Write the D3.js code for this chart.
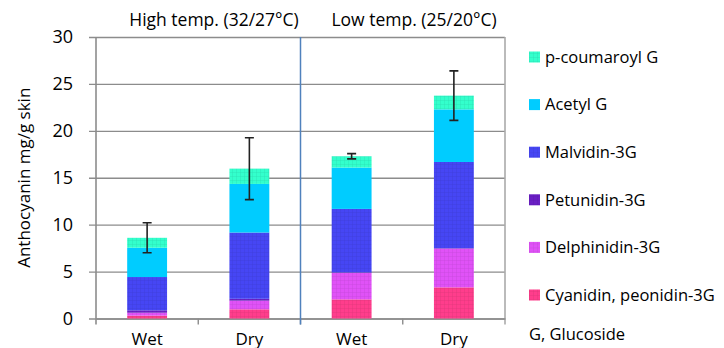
<!DOCTYPE html>
<html>
<head>
<meta charset="utf-8">
<script src="https://cdn.jsdelivr.net/npm/d3@7"></script>
<style>
  body { margin: 0; background: #fff; }
  svg { display: block; font-family: "Open Sans", "Noto Sans", sans-serif; }
</style>
</head>
<body>
<svg id="chart" width="724" height="348"></svg>
<script>
// categories (bottom labels) and their temperature groups
const categories = ["High Wet", "High Dry", "Low Wet", "Low Dry"]
const categoryLabels = ["Wet", "Dry", "Wet", "Dry"]
const groupTitles = ["High temp. (32/27°C)", "Low temp. (25/20°C)"]

// stacked series, bottom to top
const seriesNames = ["Cyanidin, peonidin-3G", "Delphinidin-3G", "Petunidin-3G", "Malvidin-3G", "Acetyl G", "p-coumaroyl G"]
const cyanidin = [0.30, 0.98, 2.04, 3.32]
const delphinidin = [0.32, 0.92, 2.82, 4.13]
const petunidin = [0.25, 0.20, 0.05, 0.05]
const malvidin = [3.55, 7.06, 6.77, 9.18]
const acetyl = [3.12, 5.18, 4.40, 5.61]
const coumaroyl = [1.06, 1.63, 1.21, 1.46]
const errors = [1.6, 3.3, 0.28, 2.64]

const yTicks = [0, 5, 10, 15, 20, 25, 30]
const seriesColors = ["#ff3d8c", "#e052f7", "#6a1fc4", "#4646f4", "#00ccff", "#33ffcc"]

const margin = { top: 37, bottom: 29.5, left: 96, right: 219 }
const svg = d3.select("#chart")
const width = +svg.attr("width")
const height = +svg.attr("height")
const plotW = width - margin.left - margin.right
const plotH = height - margin.top - margin.bottom

const table = categories.map((c, i) => ({
  cat: c,
  "Cyanidin, peonidin-3G": cyanidin[i],
  "Delphinidin-3G": delphinidin[i],
  "Petunidin-3G": petunidin[i],
  "Malvidin-3G": malvidin[i],
  "Acetyl G": acetyl[i],
  "p-coumaroyl G": coumaroyl[i],
  err: errors[i],
}))
const stacked = d3.stack().keys(seriesNames)(table)

const color = d3.scaleOrdinal().domain(seriesNames).range(seriesColors)

// light grid textures, like the office-style fills
const defs = svg.append("defs")
seriesNames.forEach((s, i) => {
  const p = defs.append("pattern")
    .attr("id", "pat" + i)
    .attr("patternUnits", "userSpaceOnUse")
    .attr("width", 4).attr("height", 4)
  p.append("rect").attr("width", 4).attr("height", 4).attr("fill", color(s))
  if (s !== "Acetyl G") {
    p.append("path").attr("d", "M0,0.5H4M0.5,0V4")
      .attr("stroke", d3.color(color(s)).darker(0.4))
      .attr("stroke-opacity", 0.35)
      .attr("stroke-width", 1)
  }
})

const x = d3.scaleBand()
  .domain(categories)
  .range([margin.left, margin.left + plotW])
  .paddingInner(0.61)
  .paddingOuter(0.305)

const y = d3.scaleLinear().domain([0, 30]).range([margin.top + plotH, margin.top])

const gridColor = "#8c8c8c"

// horizontal grid + left ticks
const yAxis = svg.append("g")
  .attr("transform", `translate(${margin.left},0)`)
  .call(d3.axisLeft(y).tickValues(yTicks).tickSize(7).tickSizeOuter(0))
yAxis.select(".domain").remove()
yAxis.selectAll(".tick line")
  .attr("x1", plotW)
  .attr("x2", -7)
  .attr("stroke", gridColor)
  .attr("stroke-width", 1.4)
yAxis.selectAll(".tick text")
  .attr("x", -23)
  .attr("font-size", 18)
  .attr("fill", "#000")
  .attr("font-family", "Open Sans, sans-serif")

// frame: left axis, right border
svg.append("line")
  .attr("x1", margin.left).attr("x2", margin.left)
  .attr("y1", y(30)).attr("y2", y(0) + 6)
  .attr("stroke", gridColor).attr("stroke-width", 1.6)
svg.append("line")
  .attr("x1", margin.left + plotW).attr("x2", margin.left + plotW)
  .attr("y1", y(30)).attr("y2", y(0) + 6)
  .attr("stroke", "#aaa").attr("stroke-width", 1.6)

// bottom axis: boundary ticks, labels
const step = x.step()
const boundaries = d3.range(categories.length + 1).map((i) => margin.left + i * step)
svg.selectAll(".xtick")
  .data(boundaries.slice(1, -1))
  .join("line")
  .attr("class", "xtick")
  .attr("x1", (d) => d).attr("x2", (d) => d)
  .attr("y1", y(0)).attr("y2", y(0) + 6)
  .attr("stroke", gridColor).attr("stroke-width", 1.4)

const xAxis = svg.append("g")
  .attr("transform", `translate(0,${y(0)})`)
  .call(d3.axisBottom(x).tickSize(0).tickFormat((d, i) => categoryLabels[i]))
xAxis.select(".domain").attr("stroke", gridColor).attr("stroke-width", 1.6)
xAxis.selectAll(".tick text")
  .attr("y", 26)
  .attr("dy", 0)
  .attr("font-size", 17)
  .attr("fill", "#000")
  .attr("font-family", "Open Sans, sans-serif")

// stacked bars
svg.append("g")
  .selectAll("g")
  .data(stacked)
  .join("g")
  .attr("fill", (d, i) => `url(#pat${i})`)
  .selectAll("rect")
  .data((d) => d)
  .join("rect")
  .attr("x", (d) => x(d.data.cat))
  .attr("width", x.bandwidth())
  .attr("y", (d) => y(d[1]))
  .attr("height", (d) => y(d[0]) - y(d[1]))

// separator between temperature groups
svg.append("line")
  .attr("x1", boundaries[2]).attr("x2", boundaries[2])
  .attr("y1", y(30)).attr("y2", y(0) + 6)
  .attr("stroke", "#4f81bd").attr("stroke-width", 1.5)

// error bars
const totals = table.map((d) => d3.sum(seriesNames, (s) => d[s]))
const eb = svg.append("g").attr("stroke", "#222").attr("stroke-width", 1.6)
eb.selectAll(".ebar")
  .data(table)
  .join("path")
  .attr("class", "ebar")
  .attr("fill", "none")
  .attr("d", (d, i) => {
    const cx = x(d.cat) + x.bandwidth() / 2
    const t = y(totals[i] + d.err)
    const b = y(totals[i] - d.err)
    return `M${cx - 4.5},${t}H${cx + 4.5}M${cx},${t}V${b}M${cx - 4.5},${b}H${cx + 4.5}`
  })

// group titles
svg.selectAll(".gtitle")
  .data(groupTitles)
  .join("text")
  .attr("class", "gtitle")
  .attr("x", (d, i) => (i === 0 ? 214 : 414))
  .attr("y", 26)
  .attr("text-anchor", "middle")
  .attr("font-size", 17.5)
  .text((d) => d)

// y title
svg.append("text")
  .attr("transform", `translate(30,${(y(0) + y(30)) / 2}) rotate(-90)`)
  .attr("text-anchor", "middle")
  .attr("font-size", 17)
  .text("Anthocyanin mg/g skin")

// legend (top entry is the top of the stack)
const legendItems = seriesNames.map((s, i) => ({ name: s, i })).reverse()
const legend = svg.append("g").attr("transform", "translate(529,57)")
const li = legend.selectAll("g")
  .data(legendItems)
  .join("g")
  .attr("transform", (d, k) => `translate(0,${k * 47.6})`)
li.append("rect")
  .attr("x", 0).attr("y", -5.5)
  .attr("width", 11).attr("height", 11)
  .attr("fill", (d) => `url(#pat${d.i})`)
li.append("text")
  .attr("x", 16).attr("y", 0)
  .attr("dy", "0.35em")
  .attr("font-size", 16.5)
  .text((d) => d.name)
legend.append("text")
  .attr("x", 0).attr("y", 6 * 47.6 - 8)
  .attr("dy", "0.35em")
  .attr("font-size", 16.5)
  .text("G, Glucoside")
</script>
</body>
</html>
